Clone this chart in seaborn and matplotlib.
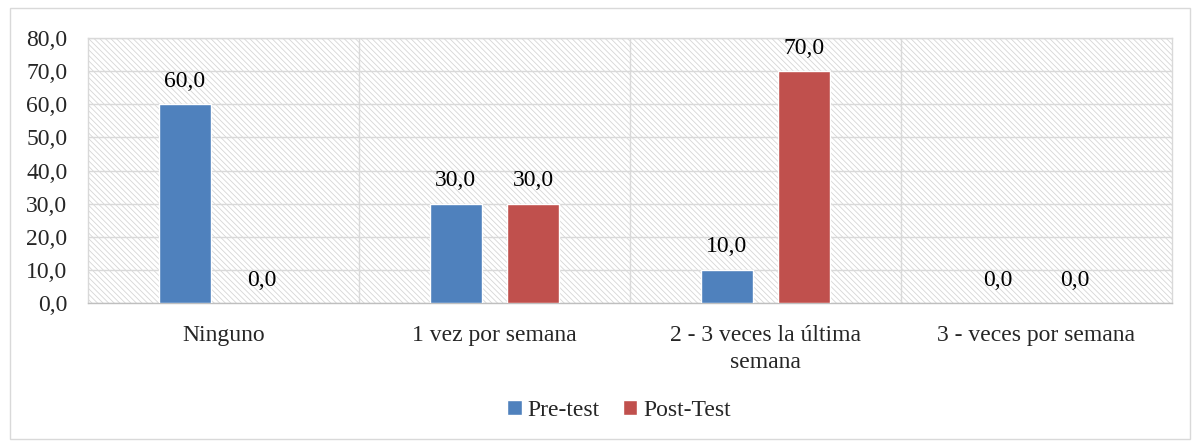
import matplotlib
matplotlib.use("Agg")
import matplotlib.pyplot as plt
import matplotlib.patches as mpatches
import seaborn as sb
import pandas as pd

categorias = ["Ninguno", "1 vez por semana", "2 - 3 veces la última\nsemana", "3 - veces por semana"]
grupos = ["Pre-test", "Post-Test"]
pre_test = [60.0, 30.0, 10.0, 0.0]
post_test = [0.0, 30.0, 70.0, 0.0]
colores = ["#4F81BD", "#C0504D"]

df = pd.DataFrame({
    "categoria": categorias * 2,
    "grupo": [grupos[0]] * 4 + [grupos[1]] * 4,
    "valor": pre_test + post_test,
})

sb.set_theme(style="white")
plt.rcParams["font.family"] = ["Liberation Serif", "DejaVu Serif"]
plt.rcParams["hatch.color"] = "#d6d6d6"
plt.rcParams["hatch.linewidth"] = 0.6

fs = 17
fig = plt.figure(figsize=(11.92, 4.43), dpi=100)
ax = fig.add_axes([0.074, 0.316, 0.909, 0.598])

# fondo rayado
fondo = mpatches.Rectangle((0, 0), 1, 1, transform=ax.transAxes, facecolor="white",
                           edgecolor="#d6d6d6", hatch="\\\\\\\\\\\\", linewidth=0, zorder=0)
ax.add_patch(fondo)

sb.barplot(data=df, x="categoria", y="valor", hue="grupo", palette=colores,
           width=0.57, gap=0.33, saturation=1, ax=ax, zorder=3)

for cont in ax.containers:
    ax.bar_label(cont, labels=[f"{v:.1f}".replace(".", ",") for v in cont.datavalues],
                 padding=9, fontsize=fs, color="black")

ax.set_ylim(0, 80)
ax.set_xlim(-0.5, 3.5)
ax.set_yticks(range(0, 81, 10))
ax.set_yticklabels([f"{v:.1f}".replace(".", ",") for v in range(0, 81, 10)], fontsize=fs)
ax.tick_params(axis="x", labelsize=fs, pad=16, length=0)
ax.tick_params(axis="y", pad=15, length=0)
for t in ax.get_xticklabels():
    t.set_linespacing(1.35)
ax.set_xlabel("")
ax.set_ylabel("")

ax.grid(axis="y", color="#d9d9d9", linewidth=1, zorder=1)
for xv in [0.5, 1.5, 2.5]:
    ax.axvline(xv, color="#d9d9d9", linewidth=1, zorder=1)
ax.set_axisbelow(True)
for s in ax.spines.values():
    s.set_color("#d9d9d9")
    s.set_linewidth(1)
ax.spines["bottom"].set_color("#bfbfbf")

ax.legend(loc="center", bbox_to_anchor=(0.49, -0.405), ncol=2, frameon=False,
          fontsize=fs, handlelength=0.6, handleheight=0.6, handletextpad=0.25, columnspacing=1.0)

fig.patches.append(mpatches.Rectangle((0.008, 0.008), 0.99, 0.975, transform=fig.transFigure,
                                      fill=False, edgecolor="#d9d9d9", linewidth=1))

plt.savefig("out.png", dpi=100)
